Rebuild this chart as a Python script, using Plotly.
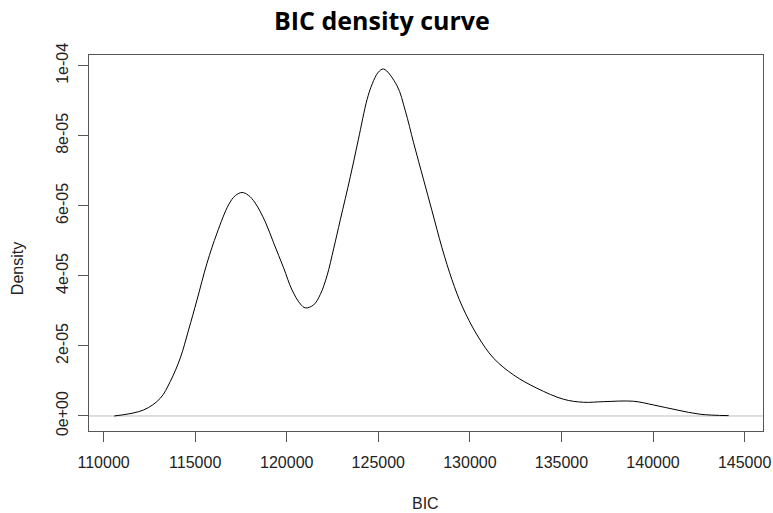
import plotly.graph_objects as go

# Density curve points
bic = [110584, 112184, 113096, 113642, 114188, 114641, 115100, 115646, 116192,
       116825, 117191, 117557, 117901, 118283, 118829, 119283, 119829, 120287,
       120740, 121014, 121467, 121833, 122198, 122559, 122925, 123471, 123908,
       124383, 124672, 125000, 125289, 126021, 126474, 126927, 127473, 127932,
       128478, 129024, 129570, 130389, 131295, 132387, 133665, 135117, 136209,
       137302, 138940, 140032, 141310, 142582, 144127]
density = [0.0, 1.71e-6, 5.06e-6, 9.86e-6, 1.657e-5, 2.457e-5, 3.314e-5, 4.363e-5,
           5.22e-5, 6.03e-5, 6.291e-5, 6.38e-5, 6.303e-5, 6.077e-5, 5.543e-5,
           4.943e-5, 4.229e-5, 3.6e-5, 3.2e-5, 3.086e-5, 3.171e-5, 3.471e-5,
           4.0e-5, 4.771e-5, 5.6e-5, 6.829e-5, 7.886e-5, 9.029e-5, 9.486e-5,
           9.814e-5, 9.906e-5, 9.429e-5, 8.714e-5, 7.8e-5, 6.743e-5, 5.857e-5,
           4.8e-5, 3.886e-5, 3.143e-5, 2.314e-5, 1.649e-5, 1.171e-5, 7.91e-6,
           4.77e-6, 3.91e-6, 4.09e-6, 4.2e-6, 3.14e-6, 1.71e-6, 4.9e-7, 1e-7]

x_ticks = [110000, 115000, 120000, 125000, 130000, 135000, 140000, 145000]
x_tick_labels = ["110000", "115000", "120000", "125000", "130000", "135000", "140000", "145000"]
y_ticks = [0, 2e-5, 4e-5, 6e-5, 8e-5, 1e-4]
y_tick_labels = ["0e+00", "2e-05", "4e-05", "6e-05", "8e-05", "1e-04"]

W, H = 773, 513
PL, PR, PT, PB = 88.7, 762.7, 55.3, 431.0  # plot box in window pixels
L, T, R, B = PL, PT, W - PR, H - PB
PW, PH = PR - PL, PB - PT


def px(x):
    return (x - PL) / PW


def py(y):
    return (PB - y) / PH


fig = go.Figure()
fig.add_trace(go.Scatter(x=bic, y=density, mode="lines",
                         line=dict(color="black", width=1, shape="spline", smoothing=1.0),
                         hoverinfo="skip", showlegend=False))

fig.add_shape(type="line", xref="paper", yref="y", x0=0, x1=1, y0=0, y1=0,
              line=dict(color="#BEBEBE", width=1), layer="below")

axis_font = dict(family="Liberation Sans, Arial, sans-serif", size=16, color="#222222")
fig.update_layout(
    width=W, height=H,
    margin=dict(l=L, r=R, t=T, b=B, autoexpand=False),
    plot_bgcolor="white", paper_bgcolor="white",
    showlegend=False,
    font=axis_font,
    xaxis=dict(range=[109203, 146005], tickvals=x_ticks, ticktext=x_tick_labels,
               showgrid=False, zeroline=False, showline=True, mirror=True,
               linecolor="#555555", linewidth=1, ticks="outside", ticklen=10,
               tickcolor="#555555", tickfont=axis_font, ticklabelstandoff=7,
               automargin=False),
    yaxis=dict(range=[-4.29e-6, 1.0306e-4], tickvals=y_ticks, ticktext=y_tick_labels,
               showgrid=False, zeroline=False, showline=True, mirror=True,
               linecolor="#555555", linewidth=1, ticks="outside", ticklen=10,
               tickcolor="#555555", tickangle=-90, tickfont=axis_font,
               ticklabelstandoff=4, automargin=False),
    annotations=[
        dict(text="<b>BIC density curve</b>", xref="paper", yref="paper",
             x=px(382), y=py(20), xanchor="center", yanchor="middle", showarrow=False,
             font=dict(family="Open Sans, sans-serif", size=25, color="black")),
        dict(text="BIC", xref="paper", yref="paper",
             x=px(425), y=py(503), xanchor="center", yanchor="middle", showarrow=False,
             font=axis_font),
        dict(text="Density", xref="paper", yref="paper", textangle=-90,
             x=px(18), y=py(269), xanchor="center", yanchor="middle", showarrow=False,
             font=axis_font),
    ],
)

fig.write_html(
    "out.html",
    config={"displayModeBar": False},
    post_script="document.body.style.margin='0';document.body.style.overflow='hidden';",
)
